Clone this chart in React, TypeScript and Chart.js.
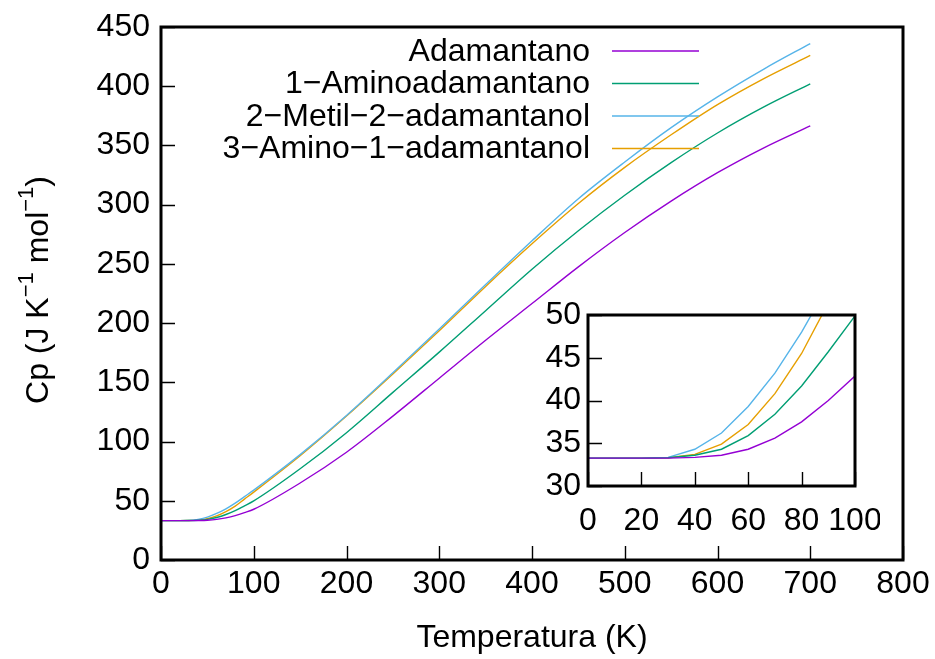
import React, { useEffect, useRef } from "react";
import { Chart, registerables } from "chart.js";
Chart.register(...registerables);

// Temperature (K)
const temps = [0, 10, 20, 30, 40, 50, 60, 70, 80, 90, 100, 150, 200, 250, 300, 350, 400, 450, 500, 550, 600, 650, 700];
// Cp (J K-1 mol-1)
const adamantano = [33.26, 33.26, 33.26, 33.26, 33.35, 33.6, 34.3, 35.6, 37.5, 40.0, 42.85, 65, 91, 121.5, 153.5, 185.5, 216.5, 247.5, 276.5, 303, 327, 348, 366.5];
const aminoadamantano = [33.26, 33.26, 33.26, 33.3, 33.6, 34.3, 35.9, 38.4, 41.7, 45.7, 49.9, 77, 107.5, 141.5, 175.5, 210.5, 245.5, 278, 308, 335.5, 360.5, 382.5, 402];
const metilAdamantanol = [33.26, 33.26, 33.26, 33.35, 34.3, 36.2, 39.3, 43.2, 48.0, 53.5, 59, 89, 122, 158, 195, 232.5, 269.5, 305, 336, 365, 391, 414.5, 436];
const aminoAdamantanol = [33.26, 33.26, 33.26, 33.3, 33.7, 34.9, 37.2, 40.8, 45.5, 51.4, 57.3, 88, 121.5, 157, 193.5, 231, 267, 301, 331.5, 359, 384.5, 406.5, 426];

const seriesNames = ["Adamantano", "1\u2212Aminoadamantano", "2\u2212Metil\u22122\u2212adamantanol", "3\u2212Amino\u22121\u2212adamantanol"];
const seriesValues = [adamantano, aminoadamantano, metilAdamantanol, aminoAdamantanol];
const seriesColors = ["#9400d3", "#009e73", "#56b4e9", "#e69f00"];

const mainXTicks = [0, 100, 200, 300, 400, 500, 600, 700, 800];
const mainYTicks = [0, 50, 100, 150, 200, 250, 300, 350, 400, 450];
const insetXTicks = [0, 20, 40, 60, 80, 100];
const insetYTicks = [30, 35, 40, 45, 50];

const xTitle = "Temperatura (K)";

const FONT = '"Liberation Sans", Arial, Helvetica, sans-serif';
const FS = 32;

function makeDatasets(smooth: boolean) {
  return seriesNames.map((name, i) => ({
    label: name,
    data: temps.map((t, j) => ({ x: t, y: seriesValues[i][j] })),
    borderColor: seriesColors[i],
    backgroundColor: seriesColors[i],
    borderWidth: 1.4,
    pointRadius: 0,
    fill: false,
    tension: 0,
    cubicInterpolationMode: smooth ? "monotone" : "default",
  }));
}

function framePlugin(xt: number[], yt: number[], tickLen: number, white: boolean) {
  return {
    id: "frame",
    beforeDatasetsDraw(chart: any) {
      if (!white) return;
      const { ctx, chartArea: a } = chart;
      ctx.save();
      ctx.fillStyle = "#fff";
      ctx.fillRect(a.left, a.top, a.right - a.left, a.bottom - a.top);
      ctx.restore();
    },
    afterDatasetsDraw(chart: any) {
      const { ctx, chartArea: a, scales } = chart;
      ctx.save();
      ctx.strokeStyle = "#000";
      ctx.lineWidth = 1.4;
      ctx.beginPath();
      xt.forEach((v) => {
        const x = Math.round(scales.x.getPixelForValue(v)) + 0.5;
        ctx.moveTo(x, a.bottom);
        ctx.lineTo(x, a.bottom - tickLen);
      });
      yt.forEach((v) => {
        const y = Math.round(scales.y.getPixelForValue(v)) + 0.5;
        ctx.moveTo(a.left, y);
        ctx.lineTo(a.left + tickLen, y);
      });
      ctx.stroke();
      ctx.lineWidth = 3;
      ctx.strokeRect(a.left, a.top, a.right - a.left, a.bottom - a.top);
      ctx.restore();
    },
  };
}

const annotationsPlugin = {
  id: "annot",
  afterDraw(chart: any) {
    const { ctx, chartArea: a } = chart;
    ctx.save();
    ctx.fillStyle = "#000";
    // legend
    ctx.font = `${FS}px ${FONT}`;
    ctx.textAlign = "right";
    ctx.textBaseline = "middle";
    seriesNames.forEach((name, i) => {
      const y = 51 + i * 32.5;
      ctx.fillStyle = "#000";
      ctx.fillText(name, 590, y + 1);
      ctx.strokeStyle = seriesColors[i];
      ctx.lineWidth = 1.4;
      ctx.beginPath();
      ctx.moveTo(612, y);
      ctx.lineTo(699, y);
      ctx.stroke();
    });
    // x title
    ctx.textAlign = "center";
    ctx.fillText(xTitle, (a.left + a.right) / 2, 638);
    // y title with superscripts
    const parts: [string, boolean][] = [
      ["Cp (J K", false],
      ["\u22121", true],
      [" mol", false],
      ["\u22121", true],
      [")", false],
    ];
    const supFS = 22;
    let total = 0;
    parts.forEach(([t, sup]) => {
      ctx.font = `${sup ? supFS : FS}px ${FONT}`;
      total += ctx.measureText(t).width;
    });
    ctx.translate(38, 290);
    ctx.rotate(-Math.PI / 2);
    ctx.textAlign = "left";
    let x = -total / 2;
    parts.forEach(([t, sup]) => {
      ctx.font = `${sup ? supFS : FS}px ${FONT}`;
      ctx.fillText(t, x, sup ? -11 : 1);
      x += ctx.measureText(t).width;
    });
    ctx.restore();
  },
};

function tickSetter(arr: number[]) {
  return (scale: any) => {
    scale.ticks = arr.map((v) => ({ value: v }));
  };
}

function fitter(prop: "width" | "height", size: number) {
  return (s: any) => {
    s[prop] = size;
    s.paddingTop = 0;
    s.paddingBottom = 0;
    s.paddingLeft = 0;
    s.paddingRight = 0;
  };
}

export default function App() {
  const mainRef = useRef<HTMLCanvasElement>(null);
  const insetRef = useRef<HTMLCanvasElement>(null);

  useEffect(() => {
    document.body.style.margin = "0";
    const tickFont = { family: FONT, size: FS };
    const main = new Chart(mainRef.current!, {
      type: "line",
      data: { datasets: makeDatasets(true) as any },
      options: {
        responsive: false,
        animation: false,
        devicePixelRatio: 1,
        layout: { padding: { left: 0, top: 27, right: 32, bottom: 0 } },
        plugins: { legend: { display: false }, tooltip: { enabled: false } },
        scales: {
          x: {
            type: "linear",
            min: 0,
            max: 800,
            afterBuildTicks: tickSetter(mainXTicks),
            afterFit: fitter("height", 99),
            grid: { display: false, drawTicks: false },
            border: { display: false },
            ticks: { color: "#000", font: tickFont, padding: 5, maxRotation: 0, autoSkip: false, callback: (v: any) => String(v) },
          },
          y: {
            type: "linear",
            min: 0,
            max: 450,
            afterBuildTicks: tickSetter(mainYTicks),
            afterFit: fitter("width", 161),
            grid: { display: false, drawTicks: false },
            border: { display: false },
            ticks: { color: "#000", font: tickFont, padding: 11, autoSkip: false, callback: (v: any) => String(v) },
          },
        },
      },
      plugins: [framePlugin(mainXTicks, mainYTicks, 14, false), annotationsPlugin],
    });

    const inset = new Chart(insetRef.current!, {
      type: "line",
      data: { datasets: makeDatasets(false) as any },
      options: {
        responsive: false,
        animation: false,
        devicePixelRatio: 1,
        layout: { padding: { left: 0, top: 15, right: 25, bottom: 0 } },
        plugins: { legend: { display: false }, tooltip: { enabled: false } },
        scales: {
          x: {
            type: "linear",
            min: 0,
            max: 100,
            afterBuildTicks: tickSetter(insetXTicks),
            afterFit: fitter("height", 54),
            grid: { display: false, drawTicks: false },
            border: { display: false },
            ticks: { color: "#000", font: tickFont, padding: 16, maxRotation: 0, autoSkip: false, callback: (v: any) => String(v) },
          },
          y: {
            type: "linear",
            min: 30,
            max: 50,
            afterBuildTicks: tickSetter(insetYTicks),
            afterFit: fitter("width", 48),
            grid: { display: false, drawTicks: false },
            border: { display: false },
            ticks: { color: "#000", font: tickFont, padding: 7, autoSkip: false, callback: (v: any) => String(v) },
          },
        },
      },
      plugins: [framePlugin(insetXTicks, insetYTicks, 14, true)],
    });

    return () => {
      main.destroy();
      inset.destroy();
    };
  }, []);

  return (
    <div style={{ position: "relative", width: 935, height: 659, background: "#fff" }}>
      <canvas ref={mainRef} width={935} height={659} style={{ position: "absolute", left: 0, top: 0 }} />
      <canvas ref={insetRef} width={340} height={240} style={{ position: "absolute", left: 540, top: 300 }} />
    </div>
  );
}
